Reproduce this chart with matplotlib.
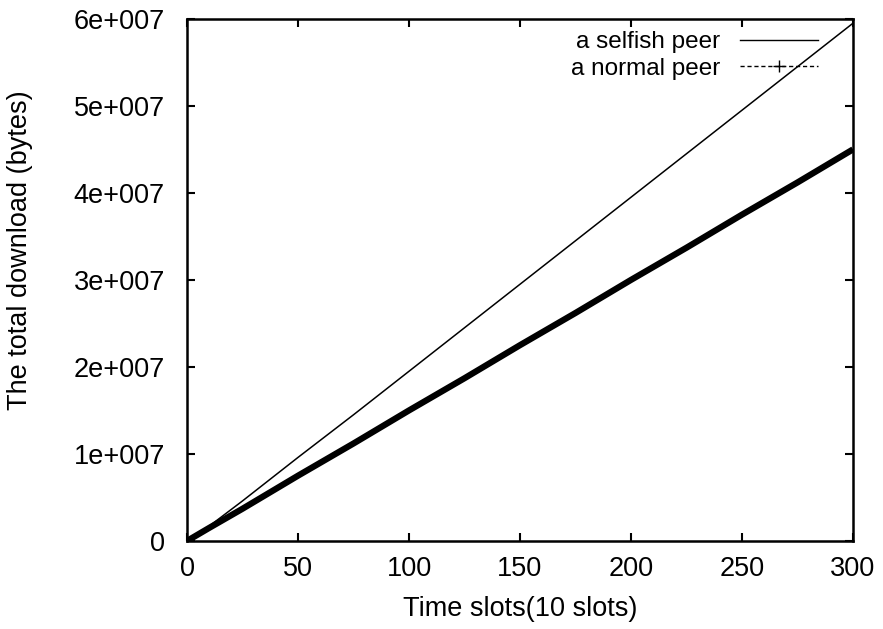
import matplotlib
matplotlib.use("Agg")
import matplotlib.pyplot as plt
from matplotlib.lines import Line2D

plt.rcParams["font.family"] = ["Liberation Sans", "DejaVu Sans"]

# time slot index (units of 10 slots) and cumulative bytes downloaded
slots = [0, 10, 25, 50, 75, 100, 125, 150, 175, 200, 225, 250, 275, 300]
selfish_bytes = [0, 1.7e6, 4.6e6, 9.6e6, 14.5e6, 19.5e6, 24.5e6, 29.5e6,
                 34.5e6, 39.5e6, 44.5e6, 49.5e6, 54.5e6, 59.5e6]
normal_bytes = [0, 1.5e6, 3.7e6, 7.5e6, 11.2e6, 15.0e6, 18.7e6, 22.5e6,
                26.2e6, 30.0e6, 33.7e6, 37.5e6, 41.2e6, 45.0e6]

xticks = [0, 50, 100, 150, 200, 250, 300]
yticks = [0, 1e7, 2e7, 3e7, 4e7, 5e7, 6e7]
ytick_labels = ["0", "1e+007", "2e+007", "3e+007", "4e+007", "5e+007", "6e+007"]

fig = plt.figure(figsize=(8.83, 6.29), dpi=100)
ax = fig.add_axes([0.2118, 0.140, 0.7542, 0.830])

ax.plot(slots, selfish_bytes, color="black", lw=1.1)
ax.plot(slots, normal_bytes, color="black", lw=4.5, solid_capstyle="butt")

ax.set_xlim(0, 300)
ax.set_ylim(0, 6e7)
ax.set_xticks(xticks)
ax.set_yticks(yticks)
ax.set_yticklabels(ytick_labels)
ax.tick_params(direction="in", length=6, width=1.5, top=True, right=True,
               labelsize=19.5)
ax.tick_params(axis="x", pad=11)
ax.tick_params(axis="y", pad=16)
for s in ax.spines.values():
    s.set_linewidth(1.8)

ax.set_xlabel("Time slots(10 slots)", fontsize=19.5, labelpad=10)
ax.set_ylabel("The total download (bytes)", fontsize=19.5)
ax.yaxis.set_label_coords(-0.232, 0.557)

handles = [Line2D([], [], color="black", lw=1.0),
           Line2D([], [], color="black", lw=1.0, ls=(0, (3, 2)),
                  marker="+", markersize=8)]
ax.legend(handles, ["a selfish peer", "a normal peer"], loc="upper right",
          frameon=False, markerfirst=False, numpoints=1, fontsize=17.5,
          handlelength=3.2, handletextpad=0.8, labelspacing=0.2,
          borderaxespad=0.1, bbox_to_anchor=(0.965, 1.0))

fig.savefig("out.png", dpi=100)
